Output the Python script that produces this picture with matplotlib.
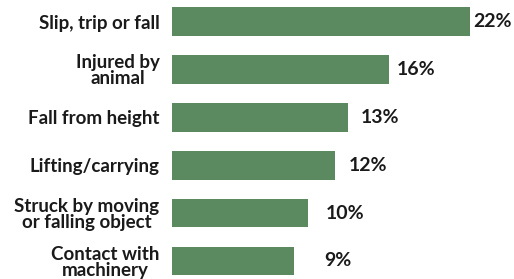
import matplotlib
matplotlib.use("Agg")
import matplotlib.pyplot as plt
from matplotlib.transforms import offset_copy

categories = ["Slip, trip or fall", "Injured by\nanimal", "Fall from height",
              "Lifting/carrying", "Struck by moving\nor falling object",
              "Contact with\nmachinery"]
values = [22, 16, 13, 12, 10, 9]
value_labels = ["22%", "16%", "13%", "12%", "10%", "9%"]
label_offsets_px = [3, 8, 13, 14, 18, 30]

plt.rcParams['font.family'] = ['Lato', 'DejaVu Sans']

fig = plt.figure(figsize=(5.14, 2.79), dpi=100)
ax = fig.add_axes([172/514, 0, 1 - 172/514, 1])
y = list(range(len(categories)))
ax.barh(y, values, height=0.6, color="#5b8a60")
ax.set_xlim(0, 342/13.55)
ax.set_ylim(5 + 18/47.9, -21.5/47.9)
ax.set_yticks(y)
ax.set_yticklabels(categories, fontsize=13.5, fontweight='bold', color="#1a1a1a",
                   multialignment='center', linespacing=0.95)
ax.tick_params(axis='y', length=0, pad=9)
ax.set_xticks([])
for s in ax.spines.values():
    s.set_visible(False)

for yi, v, lab, off in zip(y, values, value_labels, label_offsets_px):
    tr = offset_copy(ax.transData, fig=fig, x=off, y=0, units='dots')
    ax.text(v, yi, lab, transform=tr, ha='left', va='center', fontsize=14,
            fontweight='bold', color="#1a1a1a")

fig.savefig("out.png", dpi=100)
